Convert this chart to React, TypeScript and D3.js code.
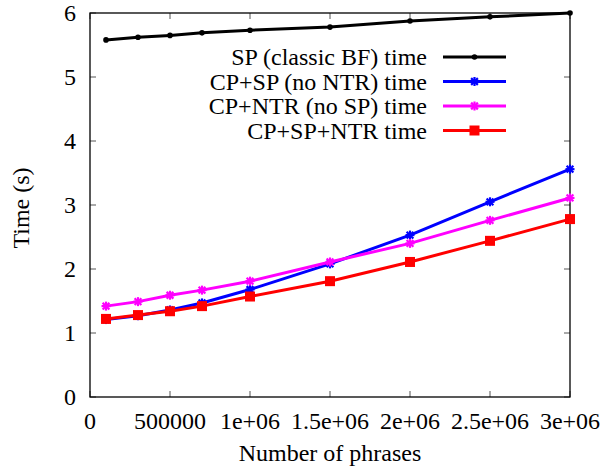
import React from "react";
import * as d3 from "d3";

const phrases = [100000, 300000, 500000, 700000, 1000000, 1500000, 2000000, 2500000, 3000000];
const spTime = [5.58, 5.62, 5.65, 5.69, 5.73, 5.78, 5.875, 5.94, 6.0];
const cpSpTime = [1.21, 1.27, 1.36, 1.47, 1.68, 2.08, 2.53, 3.05, 3.56];
const cpNtrTime = [1.42, 1.49, 1.59, 1.67, 1.81, 2.11, 2.4, 2.76, 3.11];
const cpSpNtrTime = [1.22, 1.28, 1.34, 1.42, 1.57, 1.81, 2.11, 2.44, 2.78];
const seriesNames = ["SP (classic BF) time", "CP+SP (no NTR) time", "CP+NTR (no SP) time", "CP+SP+NTR time"];
const seriesColors = ["#000000", "#0000ff", "#ff00ff", "#ff0000"];
const seriesMarkers = ["dot", "star", "star", "square"];
const xTicks = [0, 500000, 1000000, 1500000, 2000000, 2500000, 3000000];
const xTickLabels = ["0", "500000", "1e+06", "1.5e+06", "2e+06", "2.5e+06", "3e+06"];
const yTicks = [0, 1, 2, 3, 4, 5, 6];

const W = 605, H = 467;
const L = 90, R = 570, T = 13, B = 397;
const FONT = "'Liberation Serif', 'DejaVu Serif', serif";

function Marker({ kind, x, y, color }: { kind: string; x: number; y: number; color: string }) {
  if (kind === "dot") return <circle cx={x} cy={y} r={2.8} fill={color} />;
  if (kind === "square") return <rect x={x - 5} y={y - 5} width={10} height={10} fill={color} />;
  const s = 4.5;
  return (
    <g stroke={color} strokeWidth={2.2}>
      <line x1={x - s} y1={y} x2={x + s} y2={y} />
      <line x1={x} y1={y - s} x2={x} y2={y + s} />
      <line x1={x - s * 0.75} y1={y - s * 0.75} x2={x + s * 0.75} y2={y + s * 0.75} />
      <line x1={x - s * 0.75} y1={y + s * 0.75} x2={x + s * 0.75} y2={y - s * 0.75} />
    </g>
  );
}

export default function App() {
  const x = d3.scaleLinear().domain([0, 3000000]).range([L, R]);
  const y = d3.scaleLinear().domain([0, 6]).range([B, T]);
  const all = [spTime, cpSpTime, cpNtrTime, cpSpNtrTime];
  const line = d3.line<[number, number]>().x((d) => x(d[0])).y((d) => y(d[1]));
  const tl = 6;
  const legendY = [57, 81.5, 106, 130.5];
  const fs = 24;
  return (
    <svg width={W} height={H} style={{ position: "absolute", left: 0, top: 0 }} fontFamily={FONT}>
      <rect width={W} height={H} fill="#fff" />
      {yTicks.map((t) => (
        <g key={"y" + t}>
          <line x1={L} x2={L + tl} y1={y(t)} y2={y(t)} stroke="#555" strokeWidth={1} />
          <line x1={R} x2={R - tl} y1={y(t)} y2={y(t)} stroke="#555" strokeWidth={1} />
          <text x={76} y={y(t)} dy="0.35em" textAnchor="end" fontSize={fs} fill="#000">{t}</text>
        </g>
      ))}
      {xTicks.map((t, i) => (
        <g key={"x" + t}>
          <line x1={x(t)} x2={x(t)} y1={B} y2={B - tl} stroke="#555" strokeWidth={1} />
          <line x1={x(t)} x2={x(t)} y1={T} y2={T + tl} stroke="#555" strokeWidth={1} />
          <text x={x(t)} y={429} textAnchor="middle" fontSize={fs} fill="#000">{xTickLabels[i]}</text>
        </g>
      ))}
      <rect x={L} y={T} width={R - L} height={B - T} fill="none" stroke="#000" strokeWidth={1.3} />
      <text x={330} y={461} textAnchor="middle" fontSize={fs}>Number of phrases</text>
      <text transform={`translate(29,208) rotate(-90)`} textAnchor="middle" fontSize={fs}>Time (s)</text>
      {all.map((vals, si) => {
        const pts = phrases.map((p, i) => [p, vals[i]] as [number, number]);
        return (
          <g key={"s" + si}>
            <path d={line(pts) || ""} fill="none" stroke={seriesColors[si]} strokeWidth={3} />
            {pts.map((p, i) => (
              <Marker key={i} kind={seriesMarkers[si]} x={x(p[0])} y={y(p[1])} color={seriesColors[si]} />
            ))}
          </g>
        );
      })}
      {seriesNames.map((n, si) => (
        <g key={"l" + si}>
          <text x={427} y={legendY[si]} dy="0.35em" textAnchor="end" fontSize={fs}>{n}</text>
          <line x1={443} x2={506} y1={legendY[si]} y2={legendY[si]} stroke={seriesColors[si]} strokeWidth={3} />
          <Marker kind={seriesMarkers[si]} x={474.5} y={legendY[si]} color={seriesColors[si]} />
        </g>
      ))}
    </svg>
  );
}
